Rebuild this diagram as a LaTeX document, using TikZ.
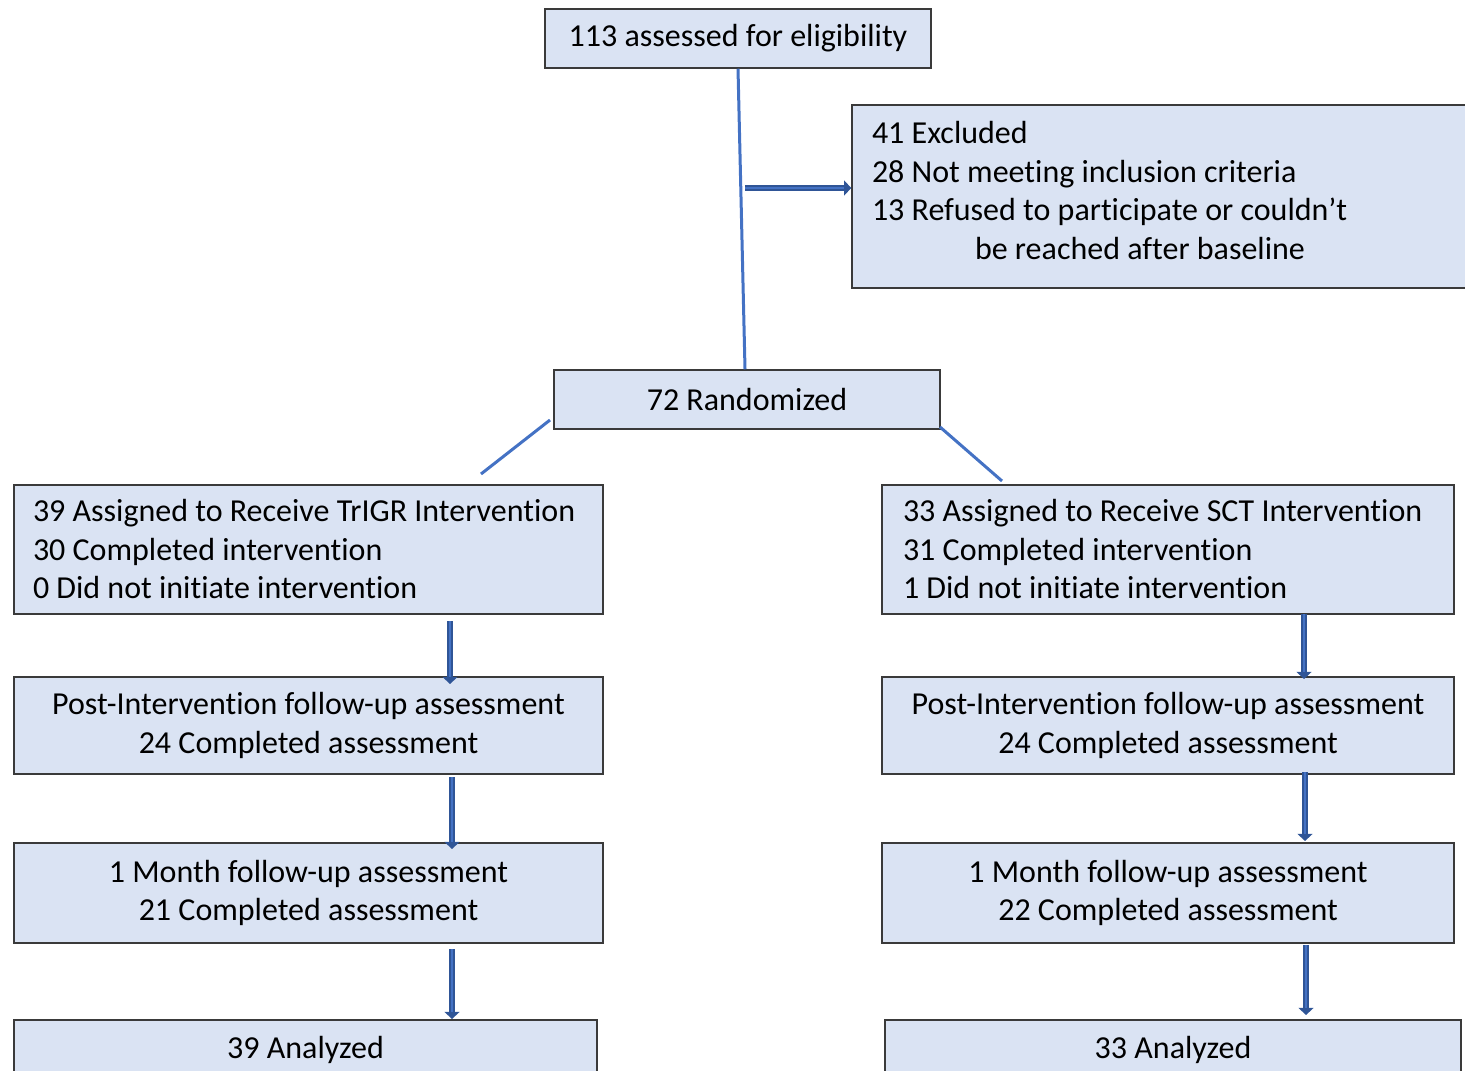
\documentclass[tikz,border=0pt]{standalone}
\usepackage{fontspec}
\setmainfont{Carlito}[Ligatures=NoCommon]
\usetikzlibrary{arrows.meta}
\definecolor{boxfill}{HTML}{DAE3F3}
\definecolor{boxline}{HTML}{3A3A3A}
\definecolor{conn}{HTML}{4472C4}
\definecolor{fatc}{HTML}{2F5597}
\begin{document}
\begin{tikzpicture}[x=0.5pt,y=-0.5pt,
  box/.style={draw=boxline, fill=boxfill, line width=0.75pt, inner sep=0pt,
    font=\fontsize{16pt}{19.25pt}\selectfont},
  thinconn/.style={draw=conn, line width=1.5pt},
  fatarrow/.style={draw=fatc, line width=3.4pt, -{Triangle[width=7.5pt,length=3.6pt]}, fill=fatc},
  fatinner/.style={draw=conn, line width=1.1pt, shorten >=3.6pt}
]
\useasboundingbox (0,0) rectangle (1465,1070);
\clip (0,0) rectangle (1465,1070);

% boxes
\node[box, minimum width=193pt, minimum height=29.5pt, align=center] (top) at (738,38.5)
  {113 assessed for eligibility};
\node[box, minimum width=311.5pt, minimum height=91.5pt, text width=291.5pt, inner xsep=10pt, align=flush left] (excl) at (1163.5,196.5)
  {41 Excluded\\28 Not meeting inclusion criteria\\13 Refused to participate or couldn’t\\\hspace*{51.5pt}be reached after baseline\rule[-6pt]{0pt}{6pt}};
\node[box, minimum width=193pt, minimum height=29.5pt, align=center] (rand) at (747,399.5)
  {72 Randomized};

\node[box, minimum width=294.5pt, minimum height=64.5pt, text width=275.5pt, inner xsep=9.5pt, align=flush left] (L1) at (308.5,549.5)
  {39 Assigned to Receive TrIGR Intervention\\30 Completed intervention\\0 Did not initiate intervention};
\node[box, minimum width=286pt, minimum height=64.5pt, text width=265pt, inner xsep=10.5pt, align=flush left] (R1) at (1168,549.5)
  {33 Assigned to Receive SCT Intervention\\31 Completed intervention\\1 Did not initiate intervention};

\node[box, minimum width=294.5pt, minimum height=48.5pt, align=center] (L2) at (308.5,725.5)
  {Post-Intervention follow-up assessment\\24 Completed assessment};
\node[box, minimum width=286pt, minimum height=48.5pt, align=center] (R2) at (1168,725.5)
  {Post-Intervention follow-up assessment\\24 Completed assessment};

\node[box, minimum width=294.5pt, minimum height=50pt, align=center] (L3) at (308.5,893)
  {1 Month follow-up assessment\\21 Completed assessment};
\node[box, minimum width=286pt, minimum height=50pt, align=center] (R3) at (1168,893)
  {1 Month follow-up assessment\\22 Completed assessment};

\node[box, minimum width=291.5pt, minimum height=30pt, align=center] (L4) at (305.5,1050)
  {39 Analyzed};
\node[box, minimum width=288pt, minimum height=30pt, align=center] (R4) at (1173,1050)
  {33 Analyzed};

% connectors
\draw[thinconn] (top.south) -- ([xshift=-1pt]rand.north);
\coordinate (ex0) at (745,188);
\coordinate (ex1) at (ex0 -| excl.west);
\draw[fatarrow, line width=2.8pt] (ex0) -- (ex1);
\draw[fatinner, line width=0.9pt] (ex0) -- (ex1);

\coordinate (dl0) at (550,420);
\coordinate (dl1) at (481,474);
\draw[thinconn] (dl0) -- (dl1);
\coordinate (dr0) at (940,427);
\coordinate (dr1) at (1002,481);
\draw[thinconn] (dr0) -- (dr1);

\coordinate (la1s) at (450,621);  \coordinate (la1e) at (450,684);
\coordinate (ra1s) at (1304,614); \coordinate (ra1e) at (1304,679);
\coordinate (la2s) at (452,777);  \coordinate (la2e) at (452,849);
\coordinate (ra2s) at (1305,772); \coordinate (ra2e) at (1305,841);
\coordinate (la3s) at (452,949);  \coordinate (la3e) at (452,1019);
\coordinate (ra3s) at (1306,945); \coordinate (ra3e) at (1306,1015);
\foreach \a in {la1,ra1,la2,ra2,la3,ra3}{
  \draw[fatarrow] (\a s) -- (\a e);
  \draw[fatinner] (\a s) -- (\a e);
}
\end{tikzpicture}
\end{document}
